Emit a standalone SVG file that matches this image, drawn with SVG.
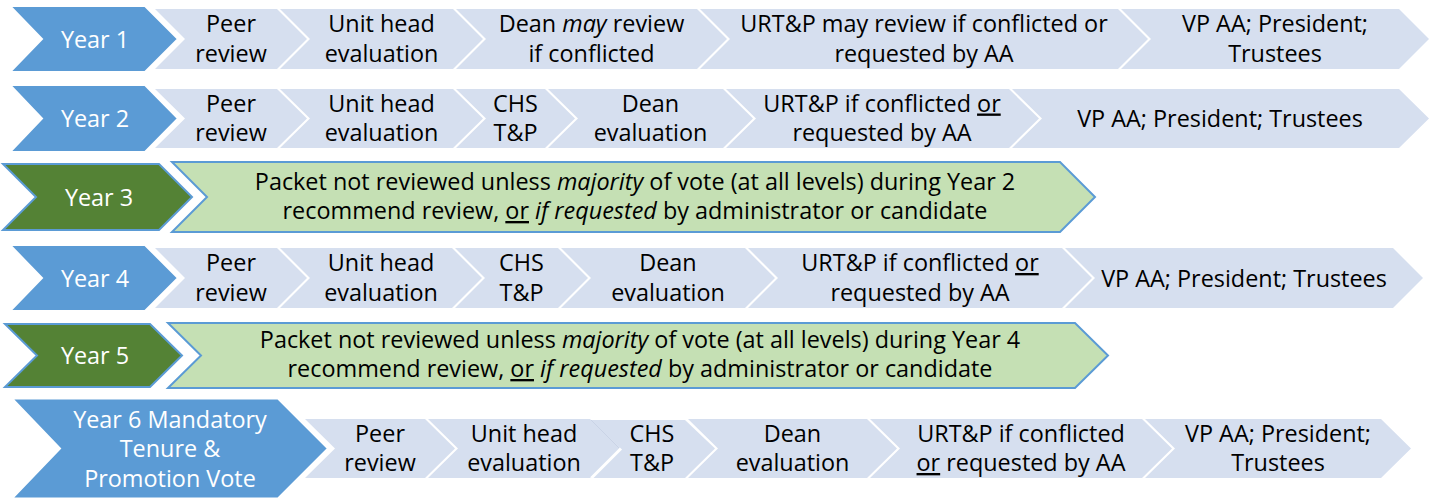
<svg xmlns="http://www.w3.org/2000/svg" width="1434" height="498" viewBox="0 0 1434 498">
<style>
.yb{fill:#5B9BD5;stroke:#fff;stroke-width:2}
.st{fill:#D6DFEF}
.yg{fill:#548235;stroke:#5B9BD5;stroke-width:2}
.lg{fill:#C5E0B4;stroke:#5B9BD5;stroke-width:2}
text{font-family:"Open Sans","Liberation Sans",sans-serif;font-size:23.4px;text-anchor:middle;fill:#000}
text.w{fill:#fff}
.u{text-decoration:underline}
.i{font-style:italic}
.sep{stroke:#fff;stroke-width:3;fill:none}
.faint{stroke:#C9D3E6;stroke-width:1;fill:none}
</style>
<rect width="1434" height="498" fill="#fff"/>
<g id="connectors"/>

<!-- Row 1 -->
<g id="year1">
<polygon class="st" points="155,9 277,9 307,39 277,69 155,69 185,39"/>
<polygon class="st" points="280,9 453,9 483,39 453,69 280,69 310,39"/>
<polygon class="st" points="456,9 697,9 727,39 697,69 456,69 486,39"/>
<polygon class="st" points="700,9 1118,9 1148,39 1118,69 700,69 730,39"/>
<polygon class="st" points="1121,9 1399,9 1429,39 1399,69 1121,69 1151,39"/>
<polygon class="yb" points="10,6 145,6 178,39 145,72 10,72 42,39"/>
<text class="w" x="95" y="47.5">Year 1</text>
<text x="231" y="32">Peer</text><text x="231" y="61.5">review</text>
<text x="381.5" y="32">Unit head</text><text x="381.5" y="61.5">evaluation</text>
<text x="591.5" y="32">Dean <tspan class="i">may</tspan> review</text><text x="591.5" y="61.5">if conflicted</text>
<text x="924" y="32">URT&amp;P may review if conflicted or</text><text x="924" y="61.5">requested by AA</text>
<text x="1275" y="32">VP AA; President;</text><text x="1275" y="61.5">Trustees</text>
</g>

<!-- Row 2 -->
<g id="year2">
<polygon class="st" points="155,89 277,89 307,118.5 277,148 155,148 185,118.5"/>
<polygon class="st" points="280,89 453,89 483,118.5 453,148 280,148 310,118.5"/>
<polygon class="st" points="456,89 545,89 575,118.5 545,148 456,148 486,118.5"/>
<polygon class="st" points="548,89 723,89 753,118.5 723,148 548,148 578,118.5"/>
<polygon class="st" points="726,89 1009,89 1039,118.5 1009,148 726,148 756,118.5"/>
<polygon class="st" points="1012,89 1399,89 1429,118.5 1399,148 1012,148 1042,118.5"/>
<polygon class="yb" points="10,85 145,85 178,118.5 145,152 10,152 42,118.5"/>
<text class="w" x="95" y="127">Year 2</text>
<text x="231" y="111.5">Peer</text><text x="231" y="141">review</text>
<text x="381.5" y="111.5">Unit head</text><text x="381.5" y="141">evaluation</text>
<text x="515.5" y="111.5">CHS</text><text x="515.5" y="141">T&amp;P</text>
<text x="650.5" y="111.5">Dean</text><text x="650.5" y="141">evaluation</text>
<text x="882" y="111.5">URT&amp;P if conflicted <tspan class="u">or</tspan></text><text x="882" y="141">requested by AA</text>
<text x="1220" y="127">VP AA; President; Trustees</text>
</g>

<!-- Row 3 -->
<g id="year3">
<polygon class="lg" points="172,162 1060,162 1095,197 1060,232 172,232 207,197"/>
<polygon class="yg" points="3,164 159,164 192,197 159,230 3,230 36,197"/>
<text class="w" x="99" y="205.5">Year 3</text>
<text x="635" y="190">Packet not reviewed unless <tspan class="i">majority</tspan> of vote (at all levels) during Year 2</text>
<text x="635" y="219">recommend review, <tspan class="u">or</tspan> <tspan class="i">if requested</tspan> by administrator or candidate</text>
</g>

<!-- Row 4 -->
<g id="year4">
<polygon class="st" points="155,248 277,248 307,278 277,308 155,308 185,278"/>
<polygon class="st" points="280,248 452,248 482,278 452,308 280,308 310,278"/>
<polygon class="st" points="455,248 558,248 588,278 558,308 455,308 485,278"/>
<polygon class="st" points="561,248 745,248 775,278 745,308 561,308 591,278"/>
<polygon class="st" points="748,248 1062,248 1092,278 1062,308 748,308 778,278"/>
<polygon class="st" points="1065,248 1393,248 1423,278 1393,308 1065,308 1095,278"/>
<polygon class="yb" points="10,245 145,245 178,278 145,311 10,311 42,278"/>
<text class="w" x="95" y="286.5">Year 4</text>
<text x="231" y="271">Peer</text><text x="231" y="300.5">review</text>
<text x="381" y="271">Unit head</text><text x="381" y="300.5">evaluation</text>
<text x="521.5" y="271">CHS</text><text x="521.5" y="300.5">T&amp;P</text>
<text x="668" y="271">Dean</text><text x="668" y="300.5">evaluation</text>
<text x="920" y="271">URT&amp;P if conflicted <tspan class="u">or</tspan></text><text x="920" y="300.5">requested by AA</text>
<text x="1244" y="286.5">VP AA; President; Trustees</text>
</g>

<!-- Row 5 -->
<g id="year5">
<polygon class="lg" points="168,323 1075,323 1108,355.5 1075,388 168,388 201,355.5"/>
<polygon class="yg" points="5,324 150,324 182,355.5 150,387 5,387 37,355.5"/>
<text class="w" x="95" y="364">Year 5</text>
<text x="640" y="347.5">Packet not reviewed unless <tspan class="i">majority</tspan> of vote (at all levels) during Year 4</text>
<text x="640" y="377">recommend review, <tspan class="u">or</tspan> <tspan class="i">if requested</tspan> by administrator or candidate</text>
</g>

<!-- Row 6 -->
<g id="year6">
<polygon class="st" points="305,419 425,419 455,448.5 425,478 305,478 335,448.5"/>
<polygon class="st" points="428,419 590,419 620,448.5 590,478 428,478 458,448.5"/>
<polygon class="st" points="591,420 685,420 715,448.5 685,478 591,478 620,448.5"/>
<line class="faint" x1="591" y1="420" x2="619" y2="448"/>
<line class="sep" x1="621" y1="448.5" x2="591.5" y2="478"/>
<polygon class="st" points="688,419 867,419 897,448.5 867,478 688,478 718,448.5"/>
<polygon class="st" points="870,419 1142,419 1172,448.5 1142,478 870,478 900,448.5"/>
<polygon class="st" points="1145,419 1381,419 1411,448.5 1381,478 1145,478 1175,448.5"/>
<polygon class="yb" points="12,398.5 278,398.5 328,448.5 278,498.5 12,498.5 60,448.5"/>
<text class="w" x="170" y="427.5">Year 6 Mandatory</text>
<text class="w" x="170" y="457">Tenure &amp;</text>
<text class="w" x="170" y="486.5">Promotion Vote</text>
<text x="380" y="441.5">Peer</text><text x="380" y="471">review</text>
<text x="524" y="441.5">Unit head</text><text x="524" y="471">evaluation</text>
<text x="652" y="441.5">CHS</text><text x="652" y="471">T&amp;P</text>
<text x="792.5" y="441.5">Dean</text><text x="792.5" y="471">evaluation</text>
<text x="1021" y="441.5">URT&amp;P if conflicted</text><text x="1021" y="471"><tspan class="u">or</tspan> requested by AA</text>
<text x="1278" y="441.5">VP AA; President;</text><text x="1278" y="471">Trustees</text>
</g>
</svg>
